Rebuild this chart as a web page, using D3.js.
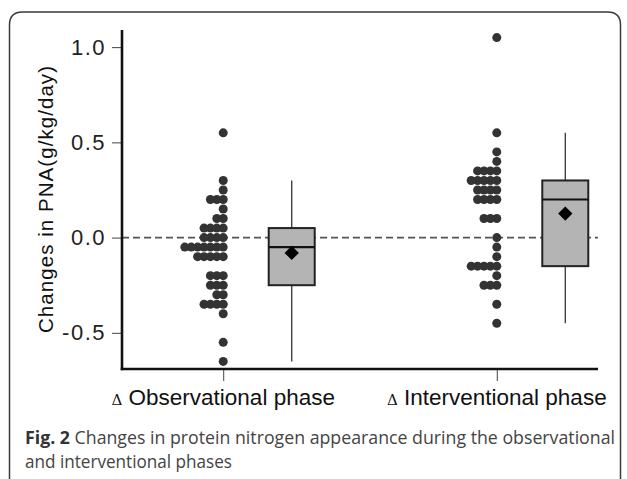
<!DOCTYPE html>
<html><head><meta charset="utf-8">
<script src="https://cdn.jsdelivr.net/npm/d3@7"></script>
<style>body{margin:0;background:#fff}svg{display:block}</style>
</head><body><svg id="c" width="627" height="479"></svg>
<script>
// ---- data ----
const categories = ["Observational phase", "Interventional phase"];
const observationalValues = [
  0.55, 0.30, 0.25, 0.20, 0.20, 0.20, 0.15, 0.10, 0.10,
  0.05, 0.05, 0.05, 0.05, 0.00, 0.00, 0.00, 0.00,
  -0.05, -0.05, -0.05, -0.05, -0.05, -0.05, -0.05,
  -0.10, -0.10, -0.10, -0.10, -0.10,
  -0.20, -0.20, -0.20, -0.25, -0.25, -0.25, -0.30, -0.30,
  -0.35, -0.35, -0.35, -0.35, -0.40, -0.55, -0.65
];
const interventionalValues = [
  1.05, 0.55, 0.45, 0.40, 0.35, 0.35, 0.35, 0.35,
  0.30, 0.30, 0.30, 0.30, 0.30, 0.25, 0.25, 0.25, 0.25,
  0.20, 0.20, 0.20, 0.20, 0.10, 0.10, 0.10,
  0.00, -0.05, -0.10, -0.15, -0.15, -0.15, -0.15, -0.15,
  -0.20, -0.25, -0.25, -0.25, -0.35, -0.45
];
const groupValues = [observationalValues, interventionalValues];
const yTicks = [-0.5, 0.0, 0.5, 1.0];
const yDomain = [-0.69, 1.09];
const yLabel = "Changes in PNA(g/kg/day)";
const deltaSymbol = "\u0394";
const captionBold = "Fig. 2";
const captionLine1 = " Changes in protein nitrogen appearance during the observational";
const captionLine2 = "and interventional phases";

// ---- layout ----
const svg = d3.select("#c");
const plot = {left: 122, right: 598, top: 30, bottom: 369};
const y = d3.scaleLinear().domain(yDomain).range([plot.bottom, plot.top]);
const x = d3.scalePoint().domain(categories).range([plot.left, plot.right]).padding(0.37);
const boxOffset = 68.5, boxHalf = 23, dotR = 4.5, dotStep = 6.4;

// frame
const fr = {l: 9.5, t: 12, r: 620.5, rad: 13};
svg.append("path")
  .attr("d", `M${fr.l},480 L${fr.l},${fr.t+fr.rad} Q${fr.l},${fr.t} ${fr.l+fr.rad},${fr.t} L${fr.r-fr.rad},${fr.t} Q${fr.r},${fr.t} ${fr.r},${fr.t+fr.rad} L${fr.r},480`)
  .attr("fill", "none").attr("stroke", "#3a3a3a").attr("stroke-width", 1.5);

// zero reference line
svg.append("line")
  .attr("x1", plot.left).attr("x2", plot.right)
  .attr("y1", y(0)).attr("y2", y(0))
  .attr("stroke", "#555").attr("stroke-width", 1.6).attr("stroke-dasharray", "7,4");

// y axis
const yAxis = svg.append("g").attr("transform", `translate(${plot.left},0)`)
  .call(d3.axisLeft(y).tickValues(yTicks).tickSize(10).tickPadding(6).tickFormat(d => d.toFixed(1)));
yAxis.select(".domain").remove();
yAxis.selectAll(".tick line").attr("stroke", "#444").attr("stroke-width", 1);
yAxis.selectAll(".tick text").attr("font-family", "'Liberation Sans', Arial, sans-serif")
  .attr("font-size", 22).attr("fill", "#222").attr("letter-spacing", 1.5);

// x axis
const xAxis = svg.append("g").attr("transform", `translate(0,${plot.bottom})`)
  .call(d3.axisBottom(x).tickSize(12).tickFormat(""));
xAxis.select(".domain").remove();
xAxis.selectAll(".tick line").attr("stroke", "#444").attr("stroke-width", 1);

// axis lines
svg.append("line").attr("x1", plot.left).attr("x2", plot.left).attr("y1", plot.top).attr("y2", plot.bottom + 1.2)
  .attr("stroke", "#111").attr("stroke-width", 2.6);
svg.append("line").attr("x1", plot.left - 1.3).attr("x2", plot.right).attr("y1", plot.bottom).attr("y2", plot.bottom)
  .attr("stroke", "#111").attr("stroke-width", 2.6);

// category labels
categories.forEach(c => {
  const t = svg.append("text").attr("x", x(c)).attr("y", plot.bottom + 36)
    .attr("text-anchor", "middle").attr("font-family", "'Liberation Sans', Arial, sans-serif").attr("fill", "#111");
  t.append("tspan").attr("font-size", 15).attr("font-family", "'DejaVu Serif', serif").text(deltaSymbol);
  t.append("tspan").attr("font-size", 22.5).text(" " + c);
});

// y label
svg.append("text")
  .attr("transform", `translate(53,${(66+333)/2}) rotate(-90)`)
  .attr("text-anchor", "middle")
  .attr("font-family", "'Liberation Sans', Arial, sans-serif").attr("font-size", 20.5)
  .attr("textLength", 267).attr("lengthAdjust", "spacing")
  .attr("fill", "#111").text(yLabel);

// dots & boxes
categories.forEach((c, gi) => {
  const vals = groupValues[gi];
  const cx = x(c);
  const counts = d3.rollups(vals, v => v.length, d => d);
  const dots = [];
  counts.forEach(([v, n]) => { for (let i = 0; i < n; i++) dots.push({v, i}); });
  svg.append("g").selectAll("circle").data(dots).join("circle")
    .attr("cx", d => cx - d.i * dotStep).attr("cy", d => y(d.v)).attr("r", dotR)
    .attr("fill", "#333");

  const s = vals.slice().sort(d3.ascending);
  const q1 = d3.quantileSorted(s, 0.25), med = d3.quantileSorted(s, 0.5), q3 = d3.quantileSorted(s, 0.75);
  const iqr = q3 - q1;
  const lo = d3.min(s.filter(v => v >= q1 - 1.5 * iqr));
  const hi = d3.max(s.filter(v => v <= q3 + 1.5 * iqr));
  const mean = d3.mean(s);
  const bx = cx + boxOffset;
  const g = svg.append("g");
  g.append("line").attr("x1", bx).attr("x2", bx).attr("y1", y(hi)).attr("y2", y(lo))
    .attr("stroke", "#333").attr("stroke-width", 1.3);
  g.append("rect").attr("x", bx - boxHalf).attr("width", 2 * boxHalf)
    .attr("y", y(q3)).attr("height", y(q1) - y(q3))
    .attr("fill", "#b4b4b4").attr("stroke", "#222").attr("stroke-width", 2);
  g.append("line").attr("x1", bx - boxHalf).attr("x2", bx + boxHalf).attr("y1", y(med)).attr("y2", y(med))
    .attr("stroke", "#111").attr("stroke-width", 2.2);
  g.append("path").attr("transform", `translate(${bx},${y(mean)})`)
    .attr("d", d3.symbol(d3.symbolDiamond2, 130)()).attr("fill", "#000");
});

// caption
const capFont = "'Liberation Sans Narrow', 'Open Sans', sans-serif";
const cap = svg.append("text").attr("x", 25).attr("y", 444)
  .attr("font-family", capFont).attr("font-size", 18)
  .attr("fill", "#444").attr("textLength", 590).attr("lengthAdjust", "spacingAndGlyphs");
cap.append("tspan").attr("font-weight", "bold").attr("fill", "#333").text(captionBold);
cap.append("tspan").text(captionLine1);
svg.append("text").attr("x", 25).attr("y", 468)
  .attr("font-family", capFont).attr("font-size", 18)
  .attr("fill", "#444").attr("textLength", 207).attr("lengthAdjust", "spacingAndGlyphs").text(captionLine2);
</script></body></html>
